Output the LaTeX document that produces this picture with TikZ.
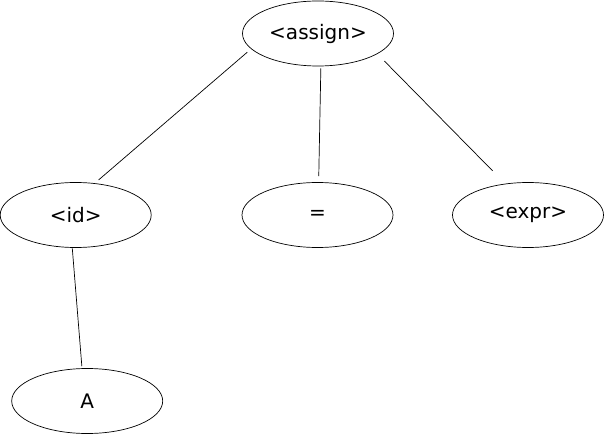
\documentclass[tikz,border=0pt]{standalone}
\usepackage{fontspec}
\setmainfont{DejaVu Sans}
\usetikzlibrary{shapes.geometric}
\begin{document}
\begin{tikzpicture}[x=1pt,y=-1pt,
  tnode/.style={draw, ellipse, line width=0.7pt, minimum width=151pt, minimum height=65pt, inner sep=0pt, font=\fontsize{20}{24}\selectfont},
  edge/.style={line width=0.7pt}]
\useasboundingbox (0,0) rectangle (604,435);
\node[tnode] (assign) at (318,33.5) {<assign>};
\node[tnode] (id) at (75.7,215) {<id>};
\node[tnode] (eq) at (317.5,215) {=};
\node[tnode] (expr) at (528,215) {<expr>};
\node[tnode] (A) at (87.2,401) {A};
\draw[edge, shorten <=5pt, shorten >=5pt] (assign.193) -- (id.59);
\draw[edge, shorten <=2pt, shorten >=6pt] (assign.275) -- (eq.88.5);
\draw[edge, shorten <=10pt, shorten >=18pt] (assign.341.7) -- (expr.126.2);
\draw[edge, shorten <=0.5pt, shorten >=2pt] (id.264) -- (A.99);
\end{tikzpicture}
\end{document}
